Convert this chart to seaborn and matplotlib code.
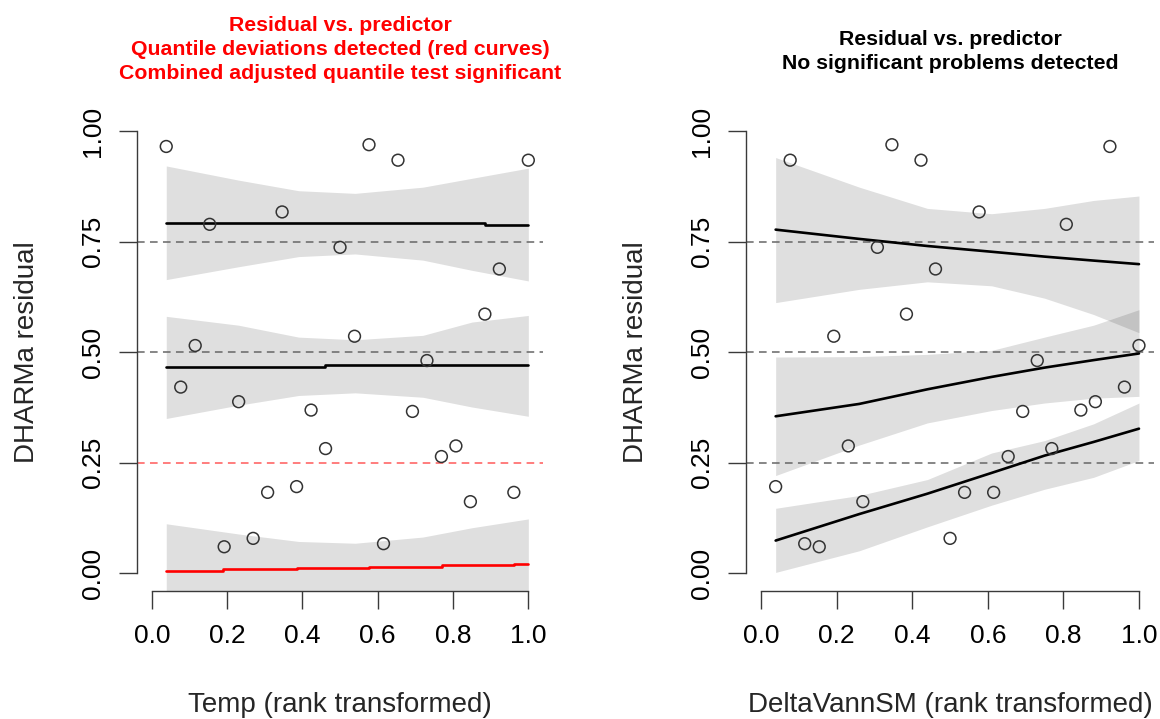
import numpy as np
import pandas as pd
import matplotlib
matplotlib.use("Agg")
import matplotlib.pyplot as plt
import seaborn as sns

# ---------------------------------------------------------------- data
n_obs = 26
rank_x = np.arange(1, n_obs + 1) / n_obs

# scaled residuals ordered by rank of each predictor
resid_temp = [0.965, 0.421, 0.515, 0.789, 0.060, 0.388, 0.079, 0.183, 0.817,
              0.196, 0.369, 0.282, 0.737, 0.536, 0.969, 0.067, 0.934, 0.366,
              0.481, 0.264, 0.288, 0.162, 0.586, 0.688, 0.183, 0.934]
resid_delta = [0.196, 0.934, 0.067, 0.060, 0.536, 0.288, 0.162, 0.737, 0.969,
               0.586, 0.934, 0.688, 0.079, 0.183, 0.817, 0.183, 0.264, 0.366,
               0.481, 0.282, 0.789, 0.369, 0.388, 0.965, 0.421, 0.515]

quantiles = [0.25, 0.5, 0.75]

# Temp: fitted quantile curves (step values) and their confidence bands
temp_q75_x = [1 / 26, 0.19, 0.885, 1.0]
temp_q75_y = [0.793, 0.791, 0.787, 0.787]
temp_q50_x = [1 / 26, 0.461, 1.0]
temp_q50_y = [0.466, 0.471, 0.471]
temp_q25_x = [1 / 26, 0.19, 0.385, 0.577, 0.77, 0.962, 1.0]
temp_q25_y = [0.006, 0.009, 0.012, 0.015, 0.018, 0.022, 0.022]

temp_band_x = [1 / 26, 0.23, 0.39, 0.54, 0.72, 0.85, 1.0]
temp_q75_hi = [0.921, 0.889, 0.865, 0.859, 0.873, 0.893, 0.916]
temp_q75_lo = [0.664, 0.693, 0.716, 0.722, 0.708, 0.685, 0.661]
temp_q50_hi = [0.581, 0.561, 0.534, 0.528, 0.538, 0.568, 0.583]
temp_q50_lo = [0.350, 0.380, 0.402, 0.408, 0.398, 0.376, 0.355]
temp_q25_hi = [0.112, 0.089, 0.072, 0.068, 0.082, 0.103, 0.123]
temp_q25_lo = [-0.100, -0.070, -0.050, -0.045, -0.055, -0.070, -0.090]

# DeltaVannSM: fitted quantile curves and confidence bands
delta_x = [1 / 26, 0.26, 0.44, 0.61, 0.75, 0.88, 1.0]
delta_q75 = [0.777, 0.756, 0.740, 0.727, 0.716, 0.707, 0.699]
delta_q75_hi = [0.940, 0.873, 0.825, 0.813, 0.825, 0.843, 0.853]
delta_q75_lo = [0.612, 0.642, 0.659, 0.650, 0.622, 0.585, 0.544]
delta_q50 = [0.355, 0.383, 0.416, 0.444, 0.465, 0.482, 0.497]
delta_q50_hi = [0.489, 0.490, 0.495, 0.504, 0.534, 0.561, 0.596]
delta_q50_lo = [0.221, 0.290, 0.340, 0.368, 0.385, 0.396, 0.400]
delta_q25 = [0.074, 0.134, 0.180, 0.227, 0.266, 0.297, 0.327]
delta_q25_hi = [0.147, 0.176, 0.212, 0.272, 0.300, 0.338, 0.385]
delta_q25_lo = [0.002, 0.051, 0.105, 0.154, 0.190, 0.217, 0.255]

tick_vals = [0.0, 0.2, 0.4, 0.6, 0.8, 1.0]
tick_labels_x = ["0.0", "0.2", "0.4", "0.6", "0.8", "1.0"]
ytick_vals = [0.0, 0.25, 0.5, 0.75, 1.0]
tick_labels_y = ["0.00", "0.25", "0.50", "0.75", "1.00"]

title_temp = ("Residual vs. predictor\nQuantile deviations detected (red curves)\n"
              "Combined adjusted quantile test significant")
title_delta = "Residual vs. predictor\nNo significant problems detected"

# ---------------------------------------------------------------- style
sns.set_style("white")
plt.rcParams["font.family"] = ["Liberation Sans", "DejaVu Sans"]

AX_COL = "#3a3a3a"
BAND = dict(color="black", alpha=0.125, linewidth=0)
DASH = (0, (5, 3.5))

fig = plt.figure(figsize=(11.6, 7.19), dpi=100)
ax_l = fig.add_axes([0.11784, 0.17802, 0.35060, 0.66440])
ax_r = fig.add_axes([0.64310, 0.17802, 0.35181, 0.66440])


def frame(ax, xlabel):
    ax.set_xlim(-0.04, 1.04)
    ax.set_ylim(-0.04, 1.04)
    for s in ("top", "right"):
        ax.spines[s].set_visible(False)
    for s in ("left", "bottom"):
        ax.spines[s].set_color(AX_COL)
        ax.spines[s].set_linewidth(1.0)
        ax.spines[s].set_bounds(0, 1)
    ax.set_xticks(tick_vals)
    ax.set_xticklabels(tick_labels_x)
    ax.set_yticks(ytick_vals)
    ax.set_yticklabels(tick_labels_y, rotation=90, va="center")
    ax.tick_params(axis="both", direction="out", length=12.7, width=1.0,
                   color=AX_COL, labelsize=19, labelcolor="black",
                   bottom=True, left=True)
    ax.tick_params(axis="x", pad=11)
    ax.tick_params(axis="y", pad=10)
    ax.set_xlabel(xlabel, fontsize=20)
    ax.set_ylabel("DHARMa residual", fontsize=20)
    ax.xaxis.set_label_coords(0.5, -0.2386)
    ax.xaxis.label.set_va("center")
    ax.yaxis.set_label_coords(-0.27, 0.5)
    ax.yaxis.label.set_va("center")
    ax.yaxis.label.set_ha("center")
    ax.grid(False)


def points(ax, y):
    df = pd.DataFrame({"x": rank_x, "y": y})
    sns.scatterplot(data=df, x="x", y="y", ax=ax, s=72, marker="o",
                    edgecolor="#333333", linewidth=1.1, zorder=5, legend=False)
    coll = ax.collections[-1]
    coll.set_facecolor("none")
    coll.set_edgecolor("#333333")


# ---------------------------------------------------------------- Temp
ax = ax_l
ax.fill_between(temp_band_x, temp_q75_lo, temp_q75_hi, **BAND)
ax.fill_between(temp_band_x, temp_q50_lo, temp_q50_hi, **BAND)
ax.fill_between(temp_band_x, temp_q25_lo, temp_q25_hi, **BAND)
for q in quantiles:
    ax.axhline(q, color="#ff5a5a" if q == 0.25 else "#666666",
               linewidth=1.1, linestyle=DASH, zorder=2)
for xs, ys, col in ((temp_q75_x, temp_q75_y, "black"),
                    (temp_q50_x, temp_q50_y, "black"),
                    (temp_q25_x, temp_q25_y, "#ff0000")):
    sns.lineplot(x=xs, y=ys, ax=ax, color=col, linewidth=1.9,
                 drawstyle="steps-post", zorder=4)
points(ax, resid_temp)
frame(ax, "Temp (rank transformed)")
ax.text(0.5, 1.134, title_temp, transform=ax.transAxes, ha="center",
        va="center", color="#ff0000", fontsize=15.3, fontweight="bold",
        linespacing=1.33)

# ---------------------------------------------------------------- DeltaVannSM
ax = ax_r
ax.fill_between(delta_x, delta_q75_lo, delta_q75_hi, **BAND)
ax.fill_between(delta_x, delta_q50_lo, delta_q50_hi, **BAND)
ax.fill_between(delta_x, delta_q25_lo, delta_q25_hi, **BAND)
for q in quantiles:
    ax.axhline(q, color="#666666", linewidth=1.1, linestyle=DASH, zorder=2)
for ys in (delta_q75, delta_q50, delta_q25):
    sns.lineplot(x=delta_x, y=ys, ax=ax, color="black", linewidth=1.9, zorder=4)
points(ax, resid_delta)
frame(ax, "DeltaVannSM (rank transformed)")
ax.text(0.5, 1.1294, title_delta, transform=ax.transAxes, ha="center",
        va="center", color="black", fontsize=15.3, fontweight="bold",
        linespacing=1.33)

fig.savefig("out.png", dpi=100)
